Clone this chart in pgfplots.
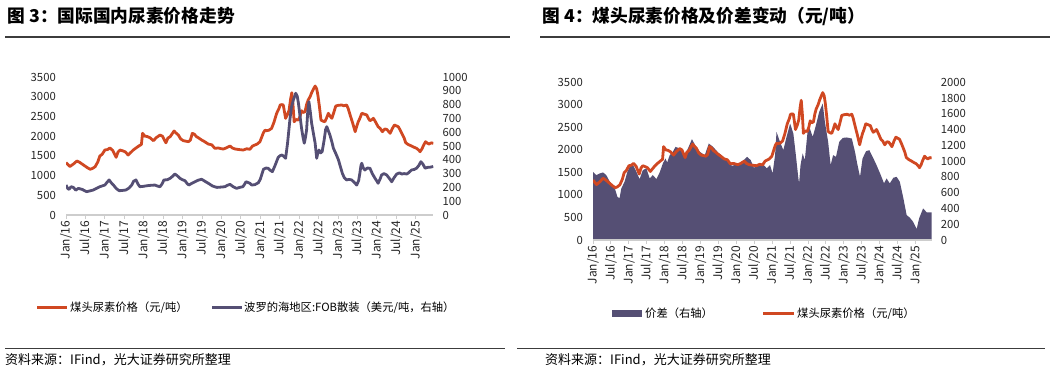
\documentclass[border=0pt]{standalone}
\usepackage{fontspec}
\setmainfont{Noto Sans CJK SC}
\usepackage{pgfplots}
\pgfplotsset{compat=1.18}
\usepackage{pgfplotstable}
\definecolor{ured}{RGB}{208,72,34}
\definecolor{unavy}{RGB}{85,79,116}
\definecolor{axgray}{RGB}{205,205,205}
\definecolor{rulegray}{RGB}{60,60,60}

% urea price (yuan/t), time in years since Jan 2016
\pgfplotstableread{
t v
0.00 1330
0.10 1230
0.20 1300
0.28 1370
0.36 1330
0.45 1268
0.55 1200
0.62 1160
0.68 1180
0.75 1225
0.82 1350
0.87 1496
0.93 1540
1.00 1648
1.07 1660
1.13 1700
1.20 1640
1.29 1463
1.34 1600
1.39 1648
1.45 1630
1.52 1605
1.60 1521
1.66 1580
1.73 1648
1.80 1700
1.89 1760
1.94 1790
1.97 2072
2.03 2000
2.09 1990
2.16 1960
2.25 1884
2.32 1960
2.42 2029
2.48 2000
2.57 1830
2.62 1950
2.68 1986
2.78 2130
2.83 2080
2.89 2029
2.95 1930
3.02 1884
3.10 1870
3.15 1859
3.20 1900
3.25 2072
3.30 2050
3.36 1986
3.42 1950
3.49 1902
3.55 1870
3.66 1800
3.75 1780
3.83 1691
3.92 1700
4.00 1680
4.05 1674
4.12 1700
4.22 1750
4.28 1700
4.35 1674
4.45 1660
4.56 1648
4.65 1680
4.73 1666
4.80 1750
4.86 1775
4.92 1800
4.99 1859
5.08 2088
5.12 2150
5.16 2138
5.22 2150
5.29 2198
5.35 2350
5.42 2579
5.48 2700
5.51 2790
5.56 2800
5.59 2790
5.65 2452
5.70 2550
5.74 2663
5.78 2950
5.81 3101
5.84 2800
5.87 2366
5.92 2420
5.98 2409
6.02 2500
6.06 2645
6.10 2600
6.15 2620
6.19 2800
6.23 2916
6.28 3000
6.32 3101
6.37 3200
6.41 3271
6.45 3200
6.48 3043
6.52 2750
6.56 2409
6.61 2380
6.66 2366
6.70 2450
6.75 2579
6.80 2500
6.84 2452
6.89 2600
6.94 2764
7.00 2780
7.09 2790
7.15 2770
7.22 2790
7.26 2700
7.31 2536
7.37 2350
7.44 2113
7.48 2250
7.52 2366
7.56 2450
7.61 2579
7.67 2560
7.74 2536
7.78 2450
7.82 2391
7.87 2420
7.91 2452
7.97 2350
8.03 2239
8.08 2200
8.14 2113
8.20 2180
8.25 2173
8.30 2120
8.34 2072
8.40 2200
8.45 2282
8.50 2260
8.55 2239
8.60 2150
8.64 2072
8.70 1950
8.74 1834
8.80 1790
8.89 1750
8.95 1720
9.02 1691
9.07 1650
9.11 1605
9.16 1680
9.19 1750
9.25 1859
9.30 1820
9.34 1800
9.40 1830
9.45 1818
}\redtab

% Baltic FOB bulk (USD/t)
\pgfplotstableread{
t v
0.00 217
0.05 190
0.08 186
0.13 205
0.19 200
0.25 180
0.32 193
0.42 185
0.53 169
0.62 175
0.70 181
0.80 195
0.87 205
1.00 217
1.05 235
1.11 254
1.16 235
1.22 217
1.30 190
1.37 176
1.45 178
1.54 181
1.62 195
1.69 217
1.74 245
1.80 254
1.85 225
1.90 205
2.00 208
2.08 212
2.18 215
2.29 217
2.35 210
2.42 205
2.47 225
2.52 254
2.60 255
2.68 266
2.74 280
2.80 297
2.86 285
2.93 266
3.00 255
3.06 249
3.11 230
3.16 217
3.24 230
3.32 241
3.40 252
3.49 259
3.57 245
3.66 230
3.77 210
3.88 200
3.98 202
4.09 205
4.15 215
4.22 222
4.30 205
4.39 193
4.47 200
4.55 205
4.60 225
4.63 241
4.73 230
4.78 217
4.86 220
4.95 234
5.00 260
5.08 331
5.14 340
5.20 339
5.25 325
5.31 314
5.38 360
5.46 418
5.51 430
5.56 435
5.62 420
5.65 411
5.70 520
5.76 689
5.80 780
5.85 834
5.91 882
5.95 860
5.98 810
6.02 720
6.06 629
6.10 560
6.13 520
6.16 560
6.19 616
6.22 750
6.25 821
6.28 760
6.32 665
6.36 600
6.41 520
6.45 411
6.48 450
6.51 471
6.55 450
6.59 459
6.64 540
6.68 620
6.71 640
6.75 610
6.79 580
6.84 530
6.88 484
6.95 440
7.01 399
7.06 350
7.11 302
7.16 270
7.22 254
7.28 258
7.35 254
7.42 235
7.48 217
7.53 250
7.56 302
7.59 360
7.61 375
7.65 340
7.69 326
7.75 340
7.82 339
7.88 300
7.95 266
8.00 245
8.03 230
8.08 260
8.12 290
8.18 300
8.25 290
8.32 265
8.38 241
8.44 270
8.51 297
8.58 305
8.64 297
8.70 300
8.77 297
8.83 310
8.89 326
8.96 330
9.02 339
9.08 360
9.13 386
9.18 370
9.24 339
9.30 345
9.36 346
9.43 350
9.45 352
}\bluetab

% spread (yuan/t, right axis)
\pgfplotstableread{
t v
0.00 865
0.09 823
0.19 844
0.28 857
0.37 823
0.47 738
0.61 654
0.68 548
0.74 528
0.79 654
0.88 738
0.96 865
1.02 928
1.12 950
1.21 865
1.30 772
1.39 886
1.49 908
1.58 781
1.67 823
1.77 772
1.86 857
1.95 971
2.02 1034
2.07 983
2.14 1076
2.23 1118
2.30 1181
2.42 1161
2.55 1076
2.65 1161
2.76 1279
2.85 1203
2.98 1118
3.12 1076
3.23 1224
3.35 1181
3.49 1110
3.63 1055
3.77 983
3.88 941
4.00 958
4.14 983
4.30 1055
4.40 1013
4.49 915
4.58 950
4.69 941
4.75 958
4.85 908
4.94 950
5.01 844
5.08 1076
5.12 1371
5.20 1266
5.31 1139
5.40 1308
5.50 1477
5.59 1351
5.66 1076
5.73 781
5.75 718
5.79 950
5.85 1097
5.91 1013
5.99 1393
6.05 1414
6.13 1308
6.22 1456
6.31 1624
6.41 1731
6.47 1498
6.56 1245
6.63 950
6.70 1076
6.78 1055
6.87 1245
6.97 1295
7.08 1300
7.22 1287
7.31 1118
7.37 971
7.45 802
7.52 1034
7.62 1127
7.71 1139
7.80 1055
7.89 971
8.01 844
8.12 718
8.19 781
8.28 718
8.38 789
8.47 802
8.56 738
8.66 528
8.75 317
8.84 282
8.93 232
9.03 139
9.10 275
9.21 401
9.31 351
9.45 351
}\spreadtab

\pgfplotsset{
  base/.style={scale only axis, anchor=south west, xmin=0, xmax=9.45, ymin=0,
    /pgf/number format/assume math mode=true, /pgf/number format/1000 sep={},
    yticklabel style={font=\fontsize{11.3}{11.3}\selectfont, text=black!85, inner sep=0pt},
    ytick style={draw=none}, ytick align=inside},
  xaxis/.style={axis x line*=bottom, x axis line style={draw=axgray, line width=1.2pt, -},
    xtick={0,0.5,1,1.5,2,2.5,3,3.5,4,4.5,5,5.5,6,6.5,7,7.5,8,8.5,9},
    xticklabels={Jan/16,Jul/16,Jan/17,Jul/17,Jan/18,Jul/18,Jan/19,Jul/19,Jan/20,Jul/20,Jan/21,Jul/21,Jan/22,Jul/22,Jan/23,Jul/23,Jan/24,Jul/24,Jan/25},
    xtick pos=left, xticklabel pos=left, xtick align=outside, major tick length=4pt,
    xtick style={draw=axgray, line width=1pt},
    xticklabel style={rotate=90, anchor=east, inner sep=1.5pt, font=\fontsize{12}{12}\selectfont, text=black!85}},
  noxaxis/.style={axis x line=none, xtick=\empty},
  leftaxis/.style={axis y line*=left, ytick pos=left, yticklabel pos=left, y axis line style={draw=none}, yticklabel style={xshift=-10pt}},
  rightaxis/.style={axis y line*=right, ytick pos=right, yticklabel pos=right, y axis line style={draw=none}, yticklabel style={xshift=9pt}},
}

\begin{document}
\begin{tikzpicture}
\path[use as bounding box] (0pt,0pt) rectangle (1054pt,369pt);

% ---------- left panel ----------
\begin{axis}[base, xaxis, leftaxis, at={(66pt,154pt)}, width=367.3pt, height=138pt,
  ymax=3500, ytick={0,500,...,3500}]
\addplot[ured, line width=2.8pt, line join=round] table[x=t,y=v]{\redtab};
\end{axis}
\begin{axis}[base, noxaxis, rightaxis, at={(66pt,154pt)}, width=367.3pt, height=138pt,
  ymax=1000, ytick={0,100,...,1000}]
\addplot[unavy, line width=2.8pt, line join=round] table[x=t,y=v]{\bluetab};
\end{axis}

% ---------- right panel ----------
\begin{axis}[base, noxaxis, rightaxis, at={(593pt,129pt)}, width=338.7pt, height=157.7pt,
  ymax=2000, ytick={0,200,...,2000}]
\addplot[fill=unavy, draw=none] table[x=t,y=v]{\spreadtab} \closedcycle;
\end{axis}
\begin{axis}[base, xaxis, leftaxis, at={(593pt,129pt)}, width=338.7pt, height=157.7pt,
  ymax=3500, ytick={0,500,...,3500}]
\addplot[ured, line width=2.8pt, line join=round] table[x=t,y=v]{\redtab};
\end{axis}

\begin{scope}[x=1pt,y=1pt]
\node[anchor=west, font=\bfseries\fontsize{17.7}{17.7}\selectfont] at (4,353) {图 3：国际国内尿素价格走势};
\draw[rulegray, line width=1.3pt] (5,332) -- (510,332);
\draw[ured, line width=2.8pt] (37,61.7) -- (67,61.7);
\node[anchor=west, font=\fontsize{11.3}{11.3}\selectfont, inner sep=0pt] at (70,61.7) {煤头尿素价格（元/吨）};
\draw[unavy, line width=2.8pt] (212,61.7) -- (242,61.7);
\node[anchor=west, font=\fontsize{11.3}{11.3}\selectfont, inner sep=0pt] at (244,61.7) {波罗的海地区:FOB散装（美元/吨，右轴）};
\draw[rulegray, line width=1.3pt] (5,20.5) -- (505,20.5);
\node[anchor=west, font=\fontsize{13}{13}\selectfont, inner sep=0pt] at (5,9.5) {资料来源：IFind，光大证券研究所整理};

\node[anchor=west, font=\bfseries\fontsize{17.7}{17.7}\selectfont] at (539,353) {图 4：煤头尿素价格及价差变动（元/吨）};
\draw[rulegray, line width=1.3pt] (540,332) -- (1050,332);
\fill[unavy] (612,52) rectangle (642,59);
\node[anchor=west, font=\fontsize{11.3}{11.3}\selectfont, inner sep=0pt] at (645,55.5) {价差（右轴）};
\draw[ured, line width=2.8pt] (763,55.5) -- (794,55.5);
\node[anchor=west, font=\fontsize{11.3}{11.3}\selectfont, inner sep=0pt] at (797,55.5) {煤头尿素价格（元/吨）};
\draw[rulegray, line width=1.3pt] (517,20.5) -- (1045,20.5);
\node[anchor=west, font=\fontsize{13}{13}\selectfont, inner sep=0pt] at (545,9.5) {资料来源：IFind，光大证券研究所整理};
\end{scope}
\end{tikzpicture}
\end{document}
